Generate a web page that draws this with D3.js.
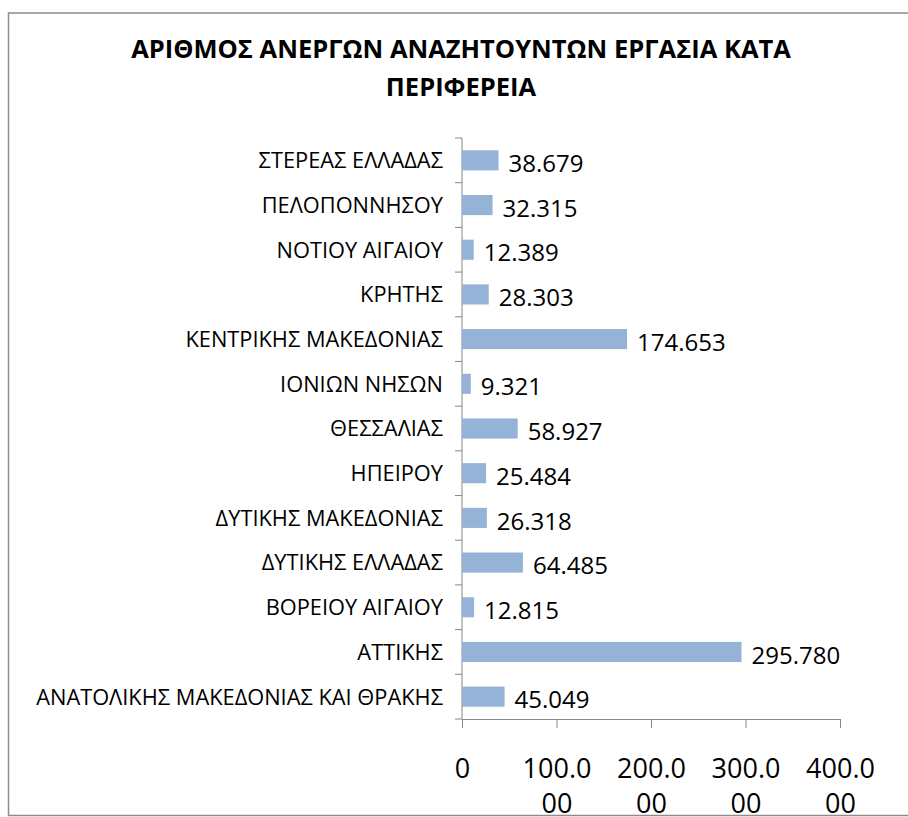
<!DOCTYPE html>
<html>
<head>
<meta charset="utf-8">
<script src="https://cdn.jsdelivr.net/npm/d3@7"></script>
<style>
  body { margin: 0; background: #fff; }
  text { font-family: "Open Sans", "Noto Sans", sans-serif; fill: #000; }
</style>
</head>
<body>
<div id="chart"></div>
<script>
// data, listed bottom to top as in the original chart
var regions = [
  "ΑΝΑΤΟΛΙΚΗΣ ΜΑΚΕΔΟΝΙΑΣ ΚΑΙ ΘΡΑΚΗΣ",
  "ΑΤΤΙΚΗΣ",
  "ΒΟΡΕΙΟΥ ΑΙΓΑΙΟΥ",
  "ΔΥΤΙΚΗΣ ΕΛΛΑΔΑΣ",
  "ΔΥΤΙΚΗΣ ΜΑΚΕΔΟΝΙΑΣ",
  "ΗΠΕΙΡΟΥ",
  "ΘΕΣΣΑΛΙΑΣ",
  "ΙΟΝΙΩΝ ΝΗΣΩΝ",
  "ΚΕΝΤΡΙΚΗΣ ΜΑΚΕΔΟΝΙΑΣ",
  "ΚΡΗΤΗΣ",
  "ΝΟΤΙΟΥ ΑΙΓΑΙΟΥ",
  "ΠΕΛΟΠΟΝΝΗΣΟΥ",
  "ΣΤΕΡΕΑΣ ΕΛΛΑΔΑΣ"
];
var unemployed = [45049, 295780, 12815, 64485, 26318, 25484, 58927, 9321, 174653, 28303, 12389, 32315, 38679];
var xTicks = [0, 100000, 200000, 300000, 400000];
var titleLines = ["ΑΡΙΘΜΟΣ ΑΝΕΡΓΩΝ ΑΝΑΖΗΤΟΥΝΤΩΝ ΕΡΓΑΣΙΑ ΚΑΤΑ", "ΠΕΡΙΦΕΡΕΙΑ"];

var data = regions.map(function(r, i) { return { region: r, value: unemployed[i] }; });

var svgWidth = 908;
var svgHeight = 817;
var plot = { left: 462, right: 840, top: 138, bottom: 719 };

var greek = d3.formatLocale({ decimal: ",", thousands: ".", grouping: [3], currency: ["", "€"] });
var fmt = greek.format(",d");

var svg = d3.select("#chart")
  .append("svg")
  .attr("width", svgWidth)
  .attr("height", svgHeight);

// chart border
svg.append("rect")
  .attr("x", 8.5)
  .attr("y", 13)
  .attr("width", 920)
  .attr("height", 802.5)
  .attr("fill", "none")
  .attr("stroke", "#8c8c8c")
  .attr("stroke-width", 1.5);

// title
svg.append("text")
  .attr("x", 461)
  .attr("y", 58)
  .attr("text-anchor", "middle")
  .style("font-weight", "bold")
  .style("font-size", "25.5px")
  .selectAll("tspan")
  .data(titleLines)
  .enter().append("tspan")
  .attr("x", 461)
  .attr("dy", function(d, i) { return i === 0 ? 0 : 38; })
  .text(function(d) { return d; });

var xScale = d3.scaleLinear().domain([0, 400000]).range([plot.left, plot.right]);
var yScale = d3.scaleBand()
  .domain(regions.slice().reverse())
  .range([plot.top, plot.bottom])
  .paddingInner(0.55)
  .paddingOuter(0.275);

// x axis
var bottomAxis = d3.axisBottom(xScale)
  .tickValues(xTicks)
  .tickSize(9)
  .tickSizeOuter(0)
  .tickFormat("");

var gx = svg.append("g")
  .attr("transform", "translate(0," + plot.bottom + ")")
  .call(bottomAxis);
gx.select(".domain").attr("stroke", "#868686");
gx.selectAll(".tick line").attr("stroke", "#868686");

// wrapped tick labels, e.g. "100.0" / "00"
gx.selectAll(".tick")
  .append("text")
  .attr("text-anchor", "middle")
  .style("font-size", "27px")
  .each(function(d) {
    var s = d === 0 ? "0" : fmt(d);
    var parts = [s.slice(0, 5), s.slice(5)].filter(function(p) { return p.length; });
    d3.select(this).selectAll("tspan")
      .data(parts)
      .enter().append("tspan")
      .attr("x", 0)
      .attr("y", function(p, i) { return 59 + i * 35; })
      .text(function(p) { return p; });
  });

// y axis line and category boundary ticks
svg.append("line")
  .attr("x1", plot.left).attr("x2", plot.left)
  .attr("y1", plot.top).attr("y2", plot.bottom)
  .attr("stroke", "#868686");

var step = yScale.step();
svg.selectAll(".cat-tick")
  .data(d3.range(regions.length + 1))
  .enter().append("line")
  .attr("class", "cat-tick")
  .attr("x1", plot.left - 7).attr("x2", plot.left)
  .attr("y1", function(i) { return plot.top + i * step; })
  .attr("y2", function(i) { return plot.top + i * step; })
  .attr("stroke", "#868686");

// category labels
svg.selectAll(".cat-label")
  .data(data)
  .enter().append("text")
  .attr("class", "cat-label")
  .attr("x", 443)
  .attr("y", function(d) { return yScale(d.region) + yScale.bandwidth() / 2; })
  .attr("dy", "0.36em")
  .attr("text-anchor", "end")
  .style("font-size", "21.8px")
  .text(function(d) { return d.region; });

// bars
svg.selectAll(".bar")
  .data(data)
  .enter().append("rect")
  .attr("class", "bar")
  .attr("x", xScale(0))
  .attr("y", function(d) { return yScale(d.region); })
  .attr("width", function(d) { return xScale(d.value) - xScale(0); })
  .attr("height", yScale.bandwidth())
  .attr("fill", "#95b3d7");

// value labels
svg.selectAll(".value")
  .data(data)
  .enter().append("text")
  .attr("class", "value")
  .attr("x", function(d) { return xScale(d.value) + 10; })
  .attr("y", function(d) { return yScale(d.region) + yScale.bandwidth() / 2 + 3; })
  .attr("dy", "0.36em")
  .style("font-size", "24px")
  .text(function(d) { return fmt(d.value); });
</script>
</body>
</html>
